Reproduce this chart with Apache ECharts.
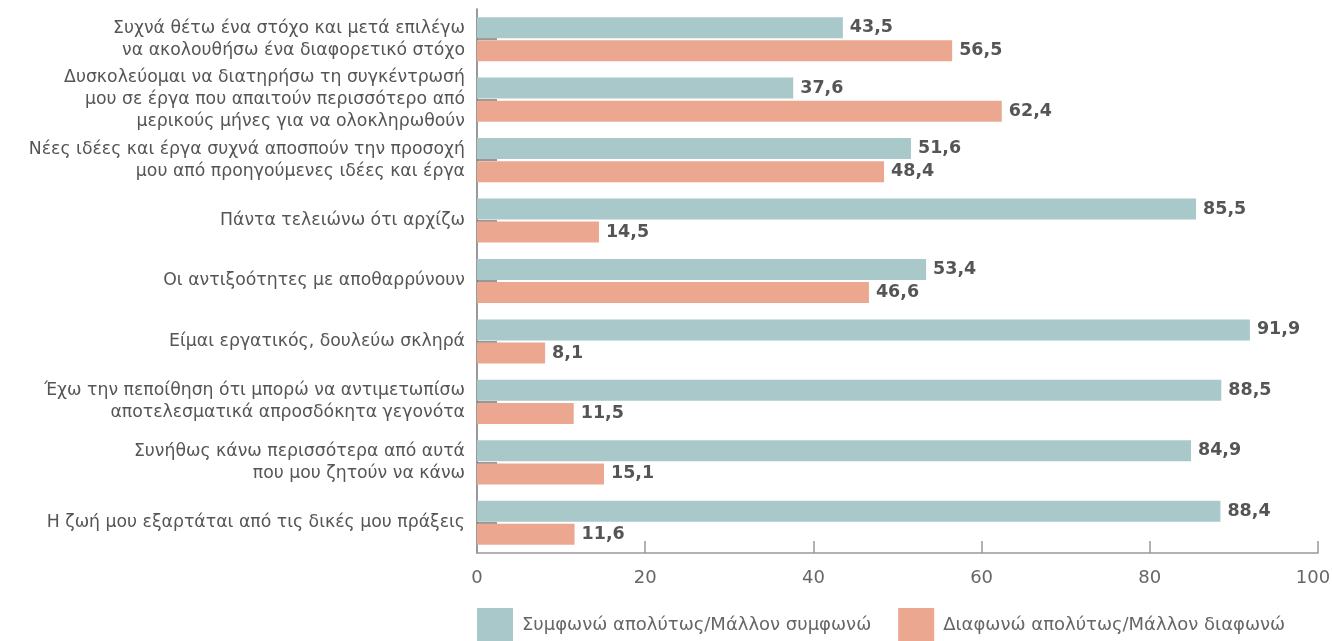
<!DOCTYPE html>
<html>
<head>
<meta charset="utf-8">
<script src="https://cdn.jsdelivr.net/npm/echarts@6/dist/echarts.min.js"></script>
<style>
  html, body { margin: 0; padding: 0; background: #fff; }
  #chart { width: 1332px; height: 641px; }
</style>
</head>
<body>
<div id="chart"></div>
<script>
// Statements (one per row, top to bottom)
const statements = [
  'Συχνά θέτω ένα στόχο και μετά επιλέγω\nνα ακολουθήσω ένα διαφορετικό στόχο',
  'Δυσκολεύομαι να διατηρήσω τη συγκέντρωσή\nμου σε έργα που απαιτούν περισσότερο από\nμερικούς μήνες για να ολοκληρωθούν',
  'Νέες ιδέες και έργα συχνά αποσπούν την προσοχή\nμου από προηγούμενες ιδέες και έργα',
  'Πάντα τελειώνω ότι αρχίζω',
  'Οι αντιξοότητες με αποθαρρύνουν',
  'Είμαι εργατικός, δουλεύω σκληρά',
  'Έχω την πεποίθηση ότι μπορώ να αντιμετωπίσω\nαποτελεσματικά απροσδόκητα γεγονότα',
  'Συνήθως κάνω περισσότερα από αυτά\nπου μου ζητούν να κάνω',
  'Η ζωή μου εξαρτάται από τις δικές μου πράξεις'
];

const seriesNames = ['Συμφωνώ απολύτως/Μάλλον συμφωνώ', 'Διαφωνώ απολύτως/Μάλλον διαφωνώ'];

// Percentages
const agree    = [43.5, 37.6, 51.6, 85.5, 53.4, 91.9, 88.5, 84.9, 88.4];
const disagree = [56.5, 62.4, 48.4, 14.5, 46.6, 8.1, 11.5, 15.1, 11.6];

const X_MAX = 100;

const colors = ['#a8c8c9', '#eca791'];
const FONT = '"DejaVu Sans", "Noto Sans", sans-serif';

const chart = echarts.init(document.getElementById('chart'), null, { renderer: 'canvas' });

const valueLabel = {
  show: true,
  position: 'right',
  distance: 7,
  color: '#555',
  fontFamily: FONT,
  fontWeight: 'bold',
  fontSize: 17.5,
  formatter: p => String(p.value).replace('.', ',')
};

chart.setOption({
  animation: false,
  color: colors,
  textStyle: { fontFamily: FONT },
  grid: { left: 477, right: 14, top: 9, bottom: 88, containLabel: false, outerBoundsMode: 'none' },
  legend: {
    bottom: -6,
    left: 472,
    itemWidth: 36,
    itemHeight: 34,
    itemGap: 27,
    icon: 'rect',
    textStyle: { color: '#666', fontSize: 18, fontFamily: FONT, padding: [0, 0, 0, 4] },
    data: seriesNames
  },
  xAxis: {
    type: 'value',
    min: 0,
    max: X_MAX,
    interval: 20,
    axisLine: { show: true, lineStyle: { color: '#999', width: 1.5 } },
    axisTick: { show: true, inside: true, length: 12, lineStyle: { color: '#999', width: 1.5 } },
    splitLine: { show: false },
    axisLabel: {
      color: '#666', fontSize: 18, fontFamily: FONT, margin: 16,
      // keep the last label inside the canvas edge
      formatter: v => (v === X_MAX ? '{last|' + v + '}' : String(v)),
      rich: { last: { color: '#666', fontSize: 18, fontFamily: FONT, padding: [0, 10, 0, 0] } }
    }
  },
  yAxis: {
    type: 'category',
    inverse: true,
    data: statements,
    axisLine: { show: true, lineStyle: { color: '#777', width: 1.5 } },
    axisTick: { show: true, inside: true, alignWithLabel: true, length: 20, lineStyle: { color: '#777', width: 1.5 } },
    axisLabel: { color: '#555', fontSize: 17.3, lineHeight: 22, fontFamily: FONT, margin: 12, align: 'right' }
  },
  series: [
    {
      name: seriesNames[0],
      type: 'bar',
      data: agree,
      barWidth: 21,
      barGap: '10%',
      label: valueLabel
    },
    {
      name: seriesNames[1],
      type: 'bar',
      data: disagree,
      barWidth: 21,
      barGap: '10%',
      label: valueLabel
    }
  ]
});
</script>
</body>
</html>
